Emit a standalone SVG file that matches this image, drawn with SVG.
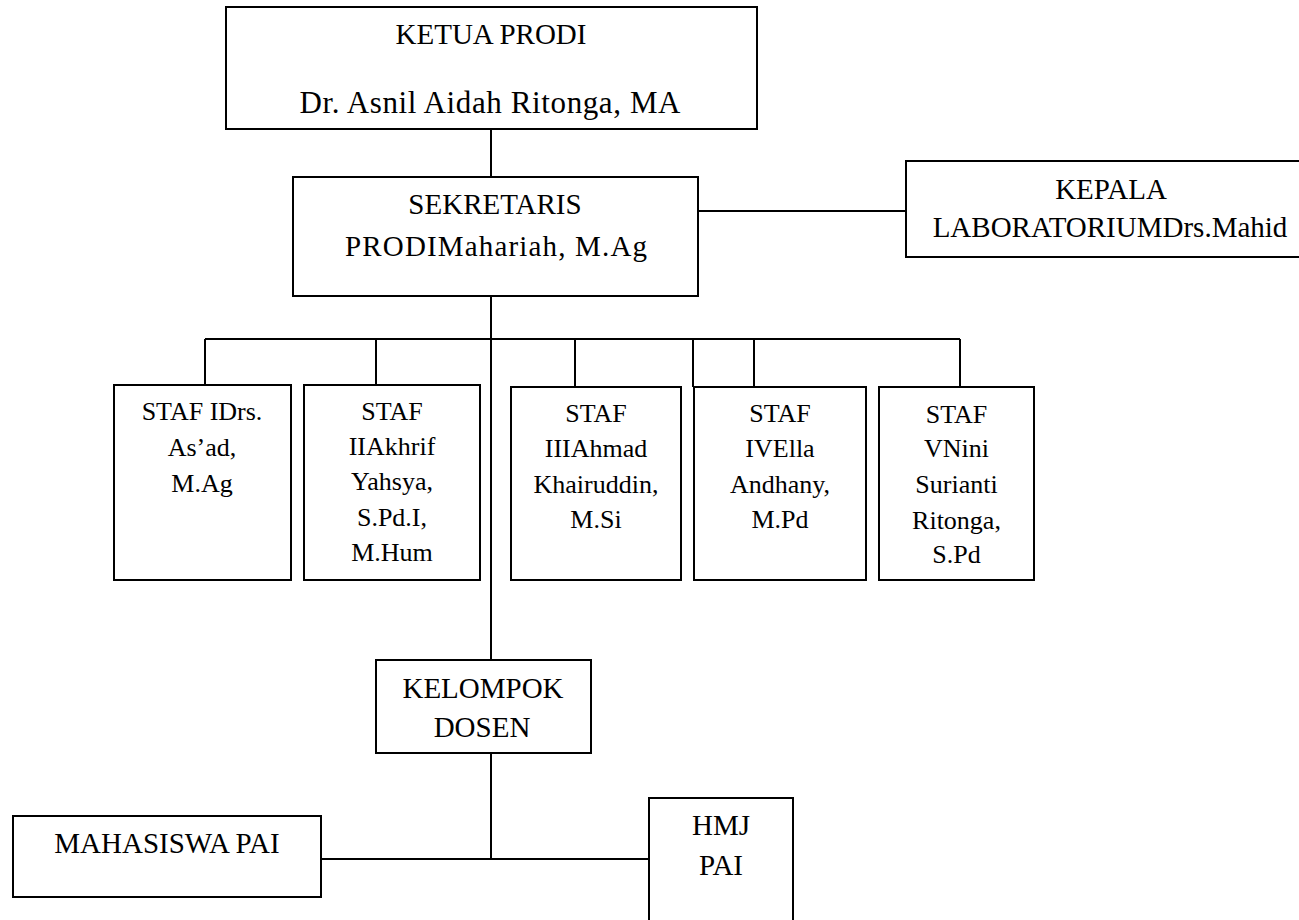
<svg xmlns="http://www.w3.org/2000/svg" width="1299" height="920" viewBox="0 0 1299 920" font-family="'Liberation Serif', 'Times New Roman', Tinos, serif">
<style>
.box{fill:#fff;stroke:#000;stroke-width:2}
.ln{stroke:#000;stroke-width:2;fill:none}
.tx{font-family:'Liberation Serif','Times New Roman',Tinos,serif;fill:#000;text-anchor:middle}
.t29{font-size:29px}
.t26{font-size:26px}
</style>
<rect width="1299" height="920" fill="#fff"/>
<g id="connectors">
<path class="ln" d="M491 129V177"/>
<path class="ln" d="M491 296V660"/>
<path class="ln" d="M698 211H906"/>
<path class="ln" d="M205 339H960"/>
<path class="ln" d="M205 339V385M376 339V385M575 339V387M693 339V387M754 339V387M960 339V387"/>
<path class="ln" d="M491 753V859M321 859H649"/>
</g>
<g id="ketua">
<rect class="box" x="226" y="7" width="531" height="122"/>
<text class="tx t29" x="491" y="44">KETUA PRODI</text>
<text class="tx" x="490" y="113" font-size="31" textLength="381">Dr. Asnil Aidah Ritonga, MA</text>
</g>
<g id="sekretaris">
<rect class="box" x="293" y="177" width="405" height="119"/>
<text class="tx t29" x="495" y="214">SEKRETARIS</text>
<text class="tx t29" x="496" y="256" textLength="302">PRODIMahariah, M.Ag</text>
</g>
<g id="kepala">
<rect class="box" x="906" y="161" width="400" height="96"/>
<text class="tx t29" x="1111" y="199">KEPALA</text>
<text class="tx t29" x="1110" y="237">LABORATORIUMDrs.Mahid</text>
</g>
<g id="staf1">
<rect class="box" x="114" y="385" width="177" height="195"/>
<text class="tx t26" x="202" y="420">STAF IDrs.</text>
<text class="tx t26" x="202" y="456">As’ad,</text>
<text class="tx t26" x="202" y="492">M.Ag</text>
</g>
<g id="staf2">
<rect class="box" x="304" y="385" width="176" height="195"/>
<text class="tx t26" x="392" y="420">STAF</text>
<text class="tx t26" x="392" y="455">IIAkhrif</text>
<text class="tx t26" x="392" y="490">Yahsya,</text>
<text class="tx t26" x="392" y="526">S.Pd.I,</text>
<text class="tx t26" x="392" y="561">M.Hum</text>
</g>
<g id="staf3">
<rect class="box" x="511" y="387" width="170" height="193"/>
<text class="tx t26" x="596" y="422">STAF</text>
<text class="tx t26" x="596" y="457">IIIAhmad</text>
<text class="tx t26" x="596" y="493">Khairuddin,</text>
<text class="tx t26" x="596" y="528">M.Si</text>
</g>
<g id="staf4">
<rect class="box" x="694" y="387" width="172" height="193"/>
<text class="tx t26" x="780" y="422">STAF</text>
<text class="tx t26" x="780" y="457">IVElla</text>
<text class="tx t26" x="780" y="493">Andhany,</text>
<text class="tx t26" x="780" y="528">M.Pd</text>
</g>
<g id="staf5">
<rect class="box" x="879" y="387" width="155" height="193"/>
<text class="tx t26" x="956.5" y="423">STAF</text>
<text class="tx t26" x="956.5" y="457">VNini</text>
<text class="tx t26" x="956.5" y="493">Surianti</text>
<text class="tx t26" x="956.5" y="529">Ritonga,</text>
<text class="tx t26" x="956.5" y="563">S.Pd</text>
</g>
<g id="kelompok">
<rect class="box" x="376" y="660" width="215" height="93"/>
<text class="tx t29" x="483" y="698">KELOMPOK</text>
<text class="tx t29" x="482" y="737">DOSEN</text>
</g>
<g id="mahasiswa">
<rect class="box" x="13" y="816" width="308" height="81"/>
<text class="tx t29" x="167" y="853">MAHASISWA PAI</text>
</g>
<g id="hmj">
<rect class="box" x="649" y="798" width="144" height="130"/>
<text class="tx t29" x="721" y="835">HMJ</text>
<text class="tx t29" x="721" y="875">PAI</text>
</g>
</svg>
